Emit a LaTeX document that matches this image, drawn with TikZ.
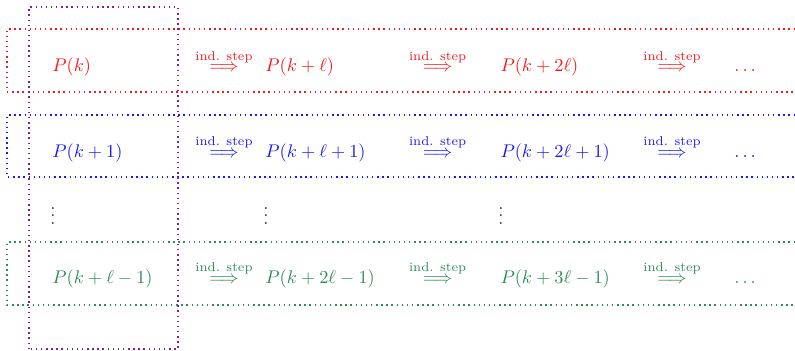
\documentclass[tikz,border=0pt]{standalone}
\usepackage{amsmath,amssymb}
\usepackage{xcolor}
\usepackage{tikz}
\definecolor{rowred}{HTML}{F01A1A}
\definecolor{rowblue}{HTML}{1A1AF0}
\definecolor{rowgreen}{HTML}{2E8B57}
\definecolor{colviolet}{HTML}{8B1A9B}
\newcommand{\indstep}{$\overset{\text{ind. step}}{\Longrightarrow}$}

\begin{document}
\begin{tikzpicture}[every node/.style={inner sep=0pt},box/.style={thick,dotted}]
  \useasboundingbox(0,0)rectangle(15.26,6.72);
  % one open box per row, one box round the first column
  \draw[box,rowred](15.26,6.163)--(0.134,6.163)--(0.134,4.954)--(15.26,4.954);
  \draw[box,rowblue](15.26,4.512)--(0.134,4.512)--(0.134,3.322)--(15.26,3.322);
  \draw[box,rowgreen](15.26,2.074)--(0.134,2.074)--(0.134,0.864)--(15.26,0.864);
  \draw[box,colviolet](0.557,0.019)rectangle(3.418,6.586);
  % statements
  \node[anchor=base west,rowred](pa1)at(0.998,5.338){$P(k)$};
  \node[anchor=base west,rowred](pa2)at(5.088,5.338){$P(k+\ell)$};
  \node[anchor=base west,rowred](pa3)at(9.600,5.338){$P(k+2\ell)$};
  \node[anchor=base west,rowred](pa4)at(14.09,5.338){$\dots$};
  \node[anchor=base west,rowblue](pb1)at(0.998,3.706){$P(k+1)$};
  \node[anchor=base west,rowblue](pb2)at(5.088,3.706){$P(k+\ell+1)$};
  \node[anchor=base west,rowblue](pb3)at(9.600,3.706){$P(k+2\ell+1)$};
  \node[anchor=base west,rowblue](pb4)at(14.09,3.706){$\dots$};
  \node[anchor=base west,rowgreen](pc1)at(0.998,1.286){$P(k+\ell-1)$};
  \node[anchor=base west,rowgreen](pc2)at(5.088,1.286){$P(k+2\ell-1)$};
  \node[anchor=base west,rowgreen](pc3)at(9.600,1.286){$P(k+3\ell-1)$};
  \node[anchor=base west,rowgreen](pc4)at(14.09,1.286){$\dots$};
  % steps between them
  \foreach \r/\c/\y in {a/rowred/5.338,b/rowblue/3.706,c/rowgreen/1.286}
    \foreach \x[count=\i] in {4.30,8.40,12.90}
      \node[anchor=base,\c](s\r\i)at(\x,\y){\indstep};
  \foreach \x[count=\i] in {0.96,5.05,9.56}
    \node[anchor=west,black!80](v\i)at(\x,2.68){$\vdots$};
\end{tikzpicture}
\end{document}
